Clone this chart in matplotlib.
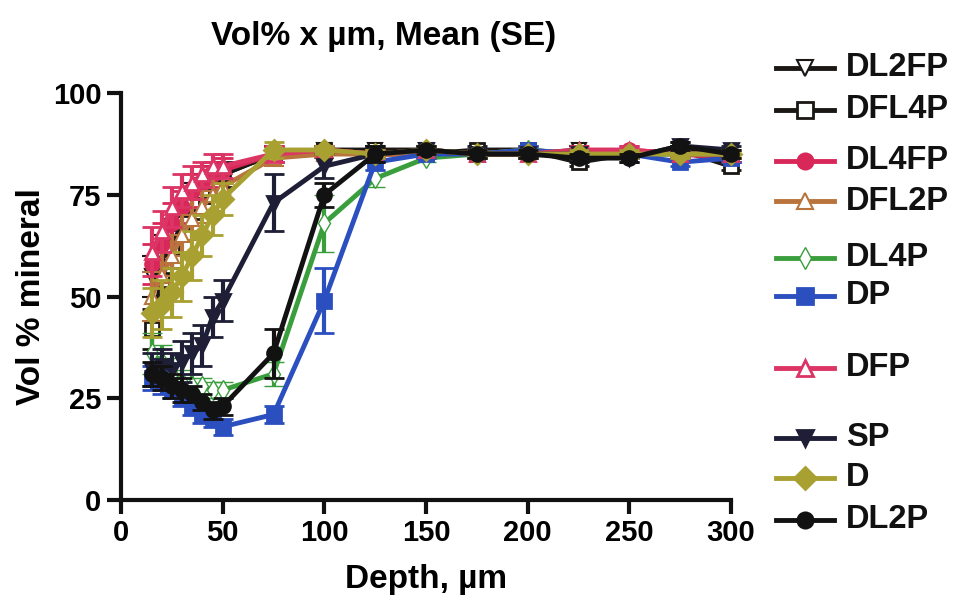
import matplotlib
matplotlib.use("Agg")
import matplotlib.pyplot as plt
from matplotlib.lines import Line2D

plt.rcParams['font.family'] = ['Liberation Sans', 'DejaVu Sans']
plt.rcParams['font.weight'] = 'bold'

depth = [15, 20, 25, 30, 35, 40, 45, 50, 75, 100, 125, 150, 175, 200, 225, 250, 275, 300]

series_names = ["DL2FP", "DFL4P", "DL4FP", "DFL2P", "DL4P", "DP", "DFP", "SP", "D", "DL2P"]

DL2FP = [55, 60, 65, 70, 74, 77, 79, 80, 85, 86, 86, 86, 85, 85, 86, 85, 86, 85]
DFL4P = [42, 54, 62, 68, 73, 76, 78, 80, 85, 86, 85, 85, 86, 86, 83, 85, 86, 82]
DL4FP = [58, 63, 68, 72, 76, 78, 80, 81, 85, 86, 85, 85, 85, 85, 85, 86, 85, 84]
DFL2P = [50, 55, 60, 65, 69, 72, 75, 77, 84, 85, 85, 85, 85, 86, 85, 85, 85, 85]
DL4P = [36, 34, 31, 29, 28, 28, 27, 27, 31, 68, 79, 84, 85, 86, 85, 85, 85, 85]
DP = [30, 29, 27, 25, 23, 21, 20, 18, 21, 49, 83, 85, 85, 86, 85, 85, 83, 84]
DFP = [61, 66, 72, 76, 78, 80, 82, 82, 85, 86, 85, 86, 85, 85, 86, 86, 85, 85]
SP = [32, 33, 32, 34, 36, 38, 45, 49, 73, 82, 85, 86, 85, 85, 85, 84, 87, 86]
D = [46, 48, 51, 55, 60, 65, 70, 74, 86, 86, 85, 86, 85, 85, 85, 85, 85, 85]
DL2P = [31, 30, 28, 27, 26, 24, 22, 23, 36, 75, 85, 86, 85, 85, 84, 84, 87, 85]

SE_DL2FP = [5, 5, 4, 4, 4, 3, 3, 2, 2, 1, 1, 1, 1, 1, 1, 1, 1, 1]
SE_DFL4P = [5, 5, 5, 4, 4, 3, 3, 3, 2, 1, 1, 1, 1, 1, 1, 1, 1, 1]
SE_DL4FP = [5, 5, 5, 4, 4, 4, 3, 3, 2, 1, 1, 1, 1, 1, 1, 1, 1, 1]
SE_DFL2P = [6, 6, 5, 5, 5, 4, 4, 3, 2, 1, 1, 1, 1, 1, 1, 1, 1, 1]
SE_DL4P = [5, 4, 4, 3, 3, 2, 2, 2, 3, 7, 2, 1, 1, 1, 1, 1, 1, 1]
SE_DP = [3, 3, 2, 2, 2, 2, 2, 2, 2, 8, 2, 1, 1, 1, 1, 1, 1, 1]
SE_DFP = [6, 5, 5, 4, 4, 3, 3, 3, 2, 1, 1, 1, 1, 1, 1, 1, 1, 1]
SE_SP = [4, 4, 4, 5, 5, 5, 5, 5, 7, 3, 2, 1, 1, 1, 1, 1, 1, 1]
SE_D = [6, 6, 6, 6, 6, 5, 5, 4, 2, 1, 1, 1, 1, 1, 1, 1, 1, 1]
SE_DL2P = [3, 3, 3, 3, 2, 2, 2, 2, 6, 3, 2, 1, 1, 1, 1, 1, 1, 1]

means = [DL2FP, DFL4P, DL4FP, DFL2P, DL4P, DP, DFP, SP, D, DL2P]
errors = [SE_DL2FP, SE_DFL4P, SE_DL4FP, SE_DFL2P, SE_DL4P, SE_DP, SE_DFP, SE_SP, SE_D, SE_DL2P]

x_ticks = [0, 50, 100, 150, 200, 250, 300]
y_ticks = [0, 25, 50, 75, 100]

# styles: color, marker, facecolor, marker edge width
styles = {
    "DL2FP": ("#1a1714", "v", "white", 1.5),
    "DFL4P": ("#1a1714", "s", "white", 2),
    "DL4FP": ("#d8285a", "o", None, 2),
    "DFL2P": ("#b8743c", "^", "white", 1.5),
    "DL4P": ("#3a9e3c", "d", "white", 1),
    "DP": ("#2c4fc0", "s", None, 2),
    "DFP": ("#dc3464", "^", "white", 2),
    "SP": ("#1e1e36", "v", None, 2),
    "D": ("#a8a030", "D", None, 2),
    "DL2P": ("#121212", "o", None, 2),
}
legend_y = [68, 110, 161, 201, 258, 296, 368, 438, 478, 520]

W, H = 956, 598
fig = plt.figure(figsize=(W / 100, H / 100), dpi=100)
ax = fig.add_axes([121 / W, 1 - 500 / H, (731 - 121) / W, (500 - 93) / H])

for i, (name, m, e) in enumerate(zip(series_names, means, errors)):
    c, mk, fc, mw = styles[name]
    face = c if fc is None else fc
    ax.errorbar(depth, m, yerr=e, color=c, lw=3.5, marker=mk, ms=10,
                mfc=face, mec=c, mew=mw, elinewidth=3, capsize=7, capthick=3,
                zorder=3 + i, clip_on=False)
    # legend entry
    y = 1 - legend_y[i] / H
    fig.add_artist(Line2D([776 / W, 834 / W], [y, y], color=c, lw=3.5,
                          transform=fig.transFigure))
    fig.add_artist(Line2D([805 / W], [y], color=c, lw=0, marker=mk, ms=11,
                          mfc=face, mec=c, mew=mw, transform=fig.transFigure))
    fig.text(846 / W, y, name, fontsize=23.5, fontweight='bold',
             va='center', ha='left', color='#111111')

ax.set_xlim(0, 300)
ax.set_ylim(0, 100)
ax.set_xticks(x_ticks)
ax.set_yticks(y_ticks)
for s in ['top', 'right']:
    ax.spines[s].set_visible(False)
for s in ['left', 'bottom']:
    ax.spines[s].set_linewidth(3)
    ax.spines[s].set_color('#111111')
ax.tick_params(width=3, length=10, labelsize=21, color='#111111', pad=4)
for lbl in ax.get_xticklabels() + ax.get_yticklabels():
    lbl.set_fontweight('bold')

ax.set_xlabel("Depth, µm", fontsize=24, fontweight='bold', labelpad=12)
ax.set_ylabel("Vol % mineral", fontsize=24, fontweight='bold', labelpad=4)
fig.text(384 / W, 1 - 36 / H, "Vol% x µm, Mean (SE)", fontsize=24,
         fontweight='bold', ha='center', va='center')

fig.savefig("out.png", dpi=100)
